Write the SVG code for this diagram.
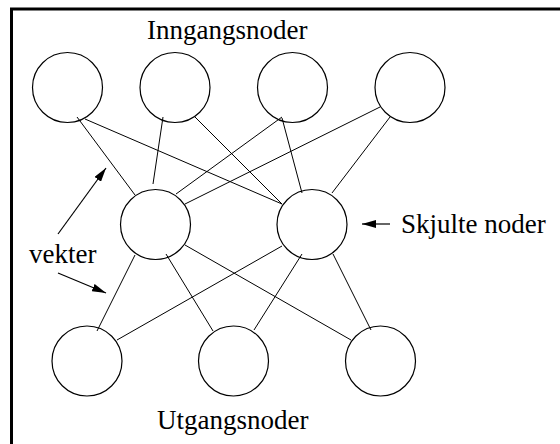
<svg xmlns="http://www.w3.org/2000/svg" width="560" height="444" viewBox="0 0 560 444">
<defs>
<style>
.n{fill:none;stroke:#000;stroke-width:1.2}
.e{stroke:#000;stroke-width:1;fill:none}
.a{stroke:#000;stroke-width:1.2;fill:none}
text{font-family:"Liberation Serif","Times New Roman",serif;font-size:27px;fill:#000}
</style>
<marker id="ah" viewBox="0 0 14 8" refX="14" refY="4" markerWidth="14" markerHeight="8" markerUnits="userSpaceOnUse" orient="auto">
<path d="M0,0 L14,4 L0,8 Z" fill="#000"/>
</marker>
</defs>
<rect width="560" height="444" fill="#fff"/>
<path d="M11.5,444 V9 H560" fill="none" stroke="#000" stroke-width="3"/>
<g id="connectors">
<line class="e" x1="77" y1="117" x2="135" y2="195"/>
<line class="e" x1="85" y1="119" x2="282" y2="204"/>
<line class="e" x1="163" y1="117" x2="153" y2="184"/>
<line class="e" x1="195" y1="117" x2="282" y2="204"/>
<line class="e" x1="176" y1="194" x2="282" y2="117"/>
<line class="e" x1="185" y1="204" x2="380" y2="107"/>
<line class="e" x1="282" y1="118" x2="302" y2="193"/>
<line class="e" x1="390" y1="117" x2="332" y2="193"/>
<line class="e" x1="135" y1="255" x2="97" y2="331"/>
<line class="e" x1="166" y1="254" x2="213" y2="331"/>
<line class="e" x1="185" y1="245" x2="351" y2="340"/>
<line class="e" x1="282" y1="246" x2="117" y2="340"/>
<line class="e" x1="302" y1="254" x2="254" y2="330"/>
<line class="e" x1="333" y1="254" x2="371" y2="330"/>
<line class="a" x1="58" y1="234" x2="106" y2="168" marker-end="url(#ah)"/>
<line class="a" x1="58" y1="273" x2="106" y2="293" marker-end="url(#ah)"/>
<line class="a" x1="390" y1="224" x2="362" y2="224" marker-end="url(#ah)"/>
</g>
<g id="in1"><circle class="n" cx="67.5" cy="87.5" r="35"/></g>
<g id="in2"><circle class="n" cx="175" cy="87.5" r="35"/></g>
<g id="in3"><circle class="n" cx="292.5" cy="87.5" r="35"/></g>
<g id="in4"><circle class="n" cx="410" cy="87.5" r="35"/></g>
<g id="h1"><circle class="n" cx="155.5" cy="224.5" r="35"/></g>
<g id="h2"><circle class="n" cx="312" cy="224.5" r="35"/></g>
<g id="out1"><circle class="n" cx="87" cy="361" r="35"/></g>
<g id="out2"><circle class="n" cx="233.5" cy="361" r="35"/></g>
<g id="out3"><circle class="n" cx="380.5" cy="361" r="35"/></g>
<g id="labels">
<text x="147" y="39">Inngangsnoder</text>
<text x="401" y="233">Skjulte noder</text>
<text x="29" y="263">vekter</text>
<text x="157" y="429">Utgangsnoder</text>
</g>
</svg>
